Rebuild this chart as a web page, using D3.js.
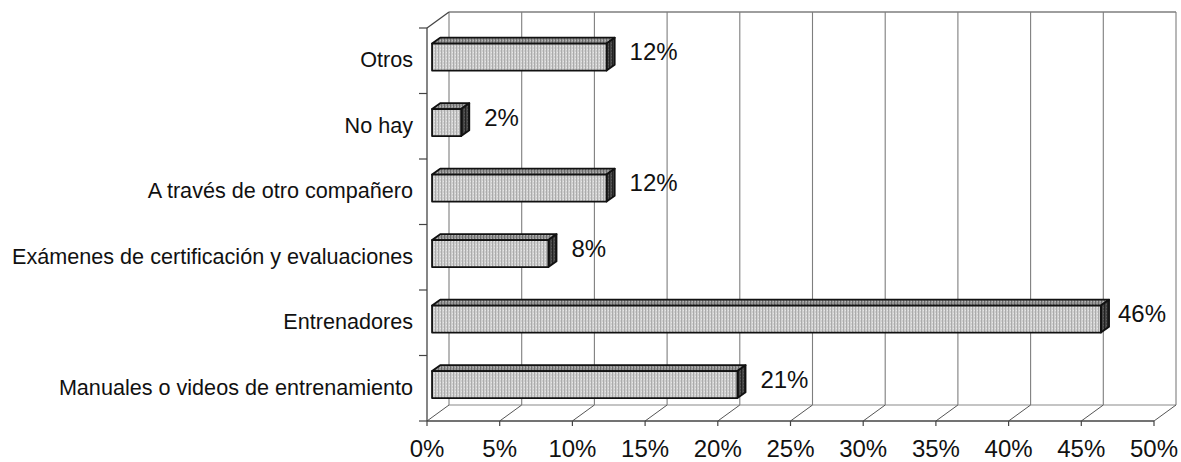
<!DOCTYPE html>
<html>
<head>
<meta charset="utf-8">
<script src="https://cdn.jsdelivr.net/npm/d3@7"></script>
<style>
  html, body { margin: 0; padding: 0; background: #ffffff; }
  svg { display: block; }
  text { font-family: "Liberation Sans", Arial, sans-serif; fill: #111; }
</style>
</head>
<body>
<svg id="chart" width="1181" height="462"></svg>
<script>
// Categories, top to bottom
const categories = [
  "Otros",
  "No hay",
  "A través de otro compañero",
  "Exámenes de certificación y evaluaciones",
  "Entrenadores",
  "Manuales o videos de entrenamiento"
];
// Percentages per category
const values = [12, 2, 12, 8, 46, 21];
// Horizontal axis ticks
const tickValues = [0, 5, 10, 15, 20, 25, 30, 35, 40, 45, 50];
const tickLabels = ["0%", "5%", "10%", "15%", "20%", "25%", "30%", "35%", "40%", "45%", "50%"];

const svg = d3.select("#chart");

// Front plane geometry and depth offset of the 3D box
const DX = 22, DY = -16;
const x = d3.scaleLinear().domain([0, 50]).range([427, 1154]);
const y = d3.scaleBand().domain(categories).range([28, 421]);
const yTop = 28, yBot = 421;

// Project a point (value, front y, depth fraction) into screen space
const P = (v, yy, f) => [x(v) + f * DX, yy + f * DY];

// Stippled fills for the bar faces
const defs = svg.append("defs");
function stipple(id, base, dark, light) {
  const p = defs.append("pattern").attr("id", id)
    .attr("width", 3).attr("height", 3).attr("patternUnits", "userSpaceOnUse");
  p.append("rect").attr("width", 3).attr("height", 3).attr("fill", base);
  p.append("rect").attr("x", 0).attr("y", 0).attr("width", 1).attr("height", 3).attr("fill", dark);
  p.append("rect").attr("x", 2).attr("y", 1).attr("width", 1).attr("height", 1).attr("fill", light);
}
stipple("frontFill", "#cfcfcf", "#ababab", "#e6e6e6");
stipple("topFill", "#979797", "#6c6c6c", "#b5b5b5");
stipple("sideFill", "#444444", "#222222", "#5a5a5a");

const grid = svg.append("g");

// Back wall gridlines
grid.selectAll("line.vgrid").data(tickValues).join("line")
  .attr("class", "vgrid")
  .attr("x1", d => P(d, yTop, 1)[0]).attr("y1", P(0, yTop, 1)[1])
  .attr("x2", d => P(d, yBot, 1)[0]).attr("y2", P(0, yBot, 1)[1])
  .attr("stroke", "#7e7e7e").attr("stroke-width", 1.1);

// Back wall top edge
grid.append("line")
  .attr("x1", P(0, yTop, 1)[0]).attr("y1", P(0, yTop, 1)[1])
  .attr("x2", P(50, yTop, 1)[0]).attr("y2", P(50, yTop, 1)[1])
  .attr("stroke", "#7e7e7e").attr("stroke-width", 1.4);

// Left wall top diagonal
grid.append("line")
  .attr("x1", P(0, yTop, 0)[0]).attr("y1", P(0, yTop, 0)[1])
  .attr("x2", P(0, yTop, 1)[0]).attr("y2", P(0, yTop, 1)[1])
  .attr("stroke", "#444").attr("stroke-width", 1.2);

// Floor: back edge, diagonals from each tick, front edge
grid.append("line")
  .attr("x1", P(0, yBot, 1)[0]).attr("y1", P(0, yBot, 1)[1])
  .attr("x2", P(50, yBot, 1)[0]).attr("y2", P(50, yBot, 1)[1])
  .attr("stroke", "#8a8a8a").attr("stroke-width", 1.2);
grid.selectAll("line.floor").data(tickValues).join("line")
  .attr("class", "floor")
  .attr("x1", d => P(d, yBot, 0)[0]).attr("y1", P(0, yBot, 0)[1])
  .attr("x2", d => P(d, yBot, 1)[0]).attr("y2", P(0, yBot, 1)[1])
  .attr("stroke", "#555").attr("stroke-width", 1);
grid.append("line")
  .attr("x1", x(0)).attr("y1", yBot).attr("x2", x(50)).attr("y2", yBot)
  .attr("stroke", "#444").attr("stroke-width", 1.3);

// Bottom axis ticks and labels
grid.selectAll("line.xtick").data(tickValues).join("line")
  .attr("class", "xtick")
  .attr("x1", d => x(d)).attr("x2", d => x(d))
  .attr("y1", yBot).attr("y2", yBot + 5)
  .attr("stroke", "#444").attr("stroke-width", 1.2);
svg.append("g").selectAll("text").data(tickValues).join("text")
  .attr("x", d => x(d)).attr("y", 457)
  .attr("text-anchor", "middle")
  .attr("font-size", 24)
  .text((d, i) => tickLabels[i]);

// Left axis line and category ticks
grid.append("line")
  .attr("x1", x(0)).attr("x2", x(0)).attr("y1", yTop).attr("y2", yBot)
  .attr("stroke", "#444").attr("stroke-width", 1.3);
const bounds = categories.map(c => y(c)).concat([yBot]);
grid.selectAll("line.ytick").data(bounds).join("line")
  .attr("class", "ytick")
  .attr("x1", x(0) - 8).attr("x2", x(0))
  .attr("y1", d => d).attr("y2", d => d)
  .attr("stroke", "#444").attr("stroke-width", 1.2);

// Category labels
svg.append("g").selectAll("text").data(categories).join("text")
  .attr("x", 413)
  .attr("y", d => y(d) + y.bandwidth() / 2 - 1)
  .attr("dy", "0.35em")
  .attr("text-anchor", "end")
  .attr("font-size", 21.6)
  .text(d => d);

// 3D bars
const fa = 0.23, fb = 0.6;   // front and back depth of each bar
const barH = 27;
const bars = svg.append("g");
categories.forEach((c, i) => {
  const v = values[i];
  const cy = y(c) + y.bandwidth() / 2;
  const t = cy - barH / 2, b = cy + barH / 2;
  const A = P(0, t, fa), B = P(v, t, fa), C = P(v, b, fa), D = P(0, b, fa);
  const A2 = P(0, t, fb), B2 = P(v, t, fb), C2 = P(v, b, fb);
  const pts = arr => arr.map(p => p.join(",")).join(" ");
  const g = bars.append("g").attr("stroke", "#111").attr("stroke-width", 1.8)
    .attr("stroke-linejoin", "round");
  g.append("polygon").attr("points", pts([A, A2, B2, B])).attr("fill", "url(#topFill)");
  g.append("polygon").attr("points", pts([B, B2, C2, C])).attr("fill", "url(#sideFill)");
  g.append("polygon").attr("points", pts([A, B, C, D])).attr("fill", "url(#frontFill)");
});

// Value labels to the right of each bar, kept inside the plot
const labels = svg.append("g");
categories.forEach((c, i) => {
  const v = values[i];
  const cy = y(c) + y.bandwidth() / 2 + fa * DY;
  const tx = labels.append("text")
    .attr("y", cy - 5)
    .attr("dy", "0.35em")
    .attr("font-size", 24)
    .text(v + "%");
  const w = tx.node().getComputedTextLength();
  let lx = P(v, 0, fa)[0] + 23;
  if (lx + w > 1166) lx = 1166 - w;
  tx.attr("x", lx);
});
</script>
</body>
</html>
